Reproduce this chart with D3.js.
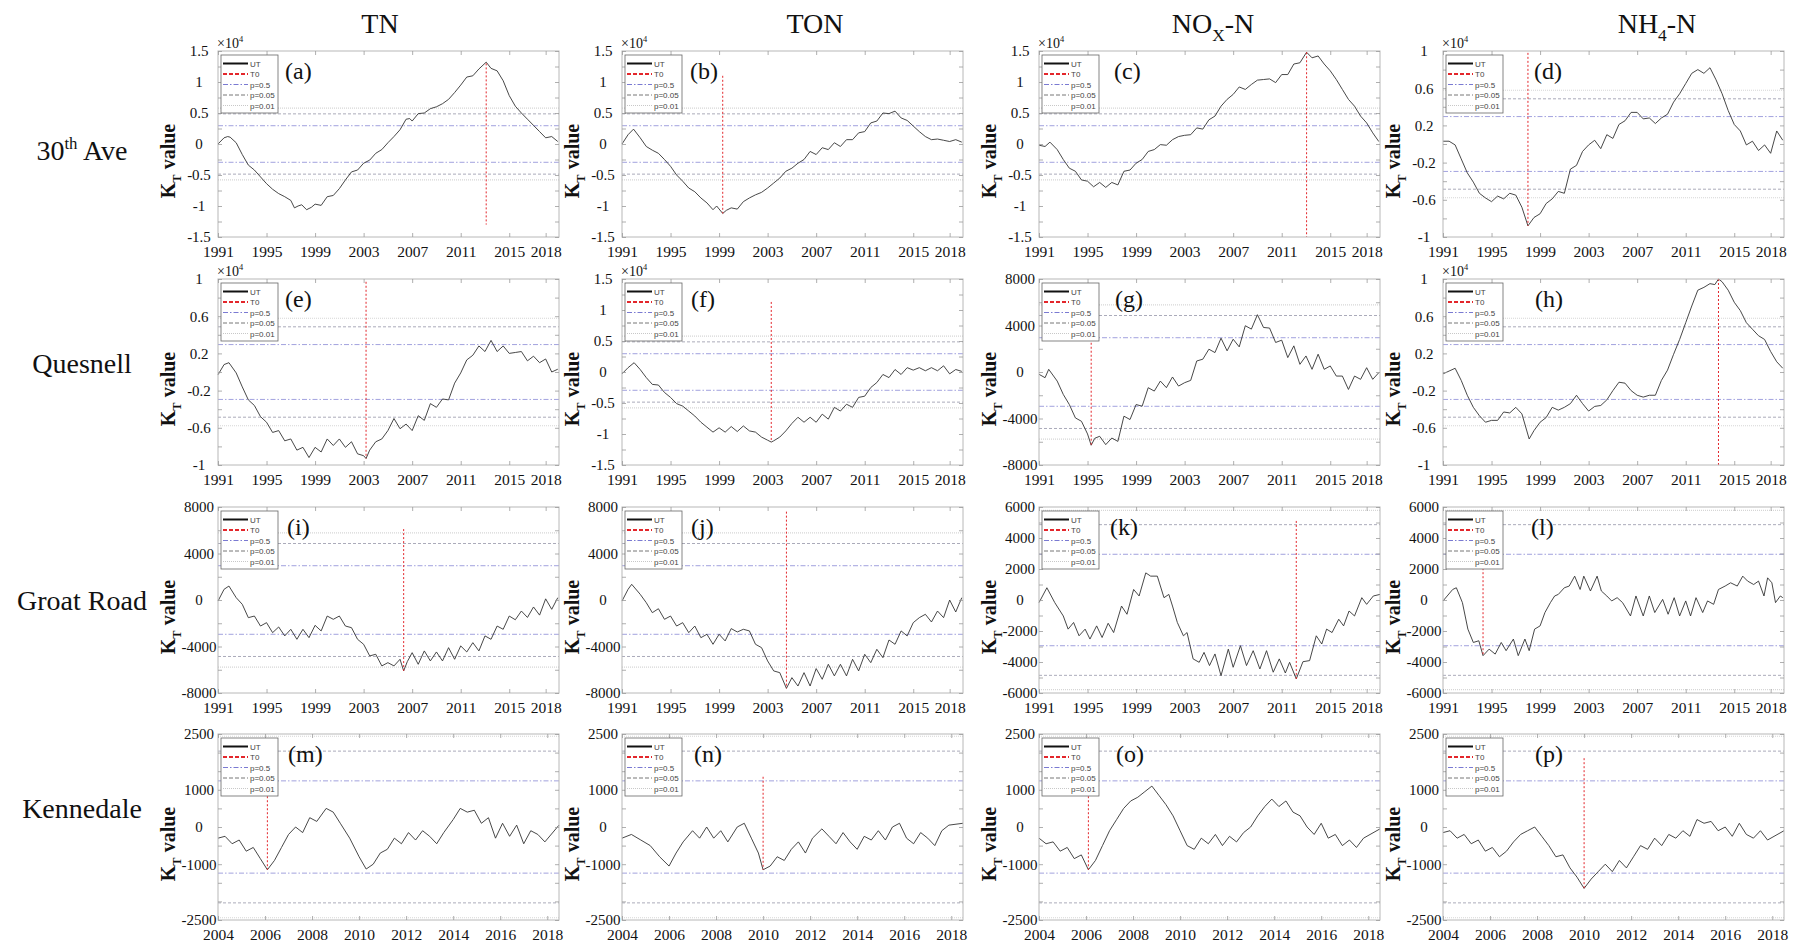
<!DOCTYPE html>
<html><head><meta charset="utf-8">
<script src="https://cdn.jsdelivr.net/npm/d3@7"></script>
<style>body{margin:0;background:#fff}svg{display:block}</style>
</head><body>
<svg id="chart" width="1794" height="945"></svg>
<script>
// ---------------- DATA ----------------
const colTitles = ["TN", "TON", "NO_{X}-N", "NH_{4}-N"];
const rowNames = ["30^{th} Ave", "Quesnell", "Groat Road", "Kennedale"];
const panelLetters = ["(a)","(b)","(c)","(d)","(e)","(f)","(g)","(h)","(i)","(j)","(k)","(l)","(m)","(n)","(o)","(p)"];
const legendLabels = ["UT", "T0", "p=0.5", "p=0.05", "p=0.01"];

const xTicksLong = [1991, 1995, 1999, 2003, 2007, 2011, 2015, 2018];
const xTicksShort = [2004, 2006, 2008, 2010, 2012, 2014, 2016, 2018];
const xDomLong = [1991, 2019.1];
const xDomShort = [2004, 2018.5];

const yTicksA = [-1.5, -1, -0.5, 0, 0.5, 1, 1.5], yMinorA = [-1.25, -0.75, -0.25, 0.25, 0.75, 1.25];
const yTicksB = [-1, -0.6, -0.2, 0.2, 0.6, 1], yMinorB = [-0.8, -0.4, 0, 0.4, 0.8];
const yTicksC = [-8000, -4000, 0, 4000, 8000], yMinorC = [-6000, -2000, 2000, 6000];
const yTicksD = [-6000, -4000, -2000, 0, 2000, 4000, 6000], yMinorD = [-5000, -3000, -1000, 1000, 3000, 5000];
const yTicksE = [-2500, -1000, 0, 1000, 2500], yMinorE = [-2000, -1500, -500, 500, 1500, 2000];

// significance thresholds (p=0.5, p=0.05, p=0.01), in K_T units
const thrLong = [2950, 4860, 5780];
const thrShort = [1240, 2040, 2440];

// UT series (values in panel display units: x10^4 where the panel shows x10^4)
const TN_30thAve = [[1991,0],[1991.5,0.1],[1991.8,0.12],[1992,0.11],[1992.5,0.02],[1993,-0.17],[1993.5,-0.34],[1994,-0.42],[1994.5,-0.53],[1995,-0.64],[1995.5,-0.73],[1996,-0.8],[1996.5,-0.85],[1997,-0.91],[1997.3,-1.03],[1997.6,-1.0],[1997.9,-0.98],[1998.3,-1.06],[1998.7,-1.02],[1999,-0.97],[1999.5,-0.99],[2000,-0.85],[2000.5,-0.83],[2001,-0.72],[2001.5,-0.58],[2002,-0.45],[2002.5,-0.42],[2003,-0.31],[2003.5,-0.26],[2004,-0.15],[2004.5,-0.09],[2005,0.02],[2005.5,0.12],[2006,0.23],[2006.5,0.4],[2006.8,0.41],[2007,0.37],[2007.5,0.49],[2008,0.5],[2008.5,0.57],[2009,0.6],[2009.5,0.65],[2010,0.72],[2010.5,0.83],[2011,0.95],[2011.5,1.08],[2012,1.1],[2012.5,1.21],[2013.1,1.32],[2013.5,1.22],[2014,1.18],[2014.5,1.02],[2015,0.78],[2015.5,0.61],[2016,0.5],[2016.5,0.4],[2017,0.3],[2017.5,0.2],[2018,0.1],[2018.5,0.12],[2019,0.04]];
const TON_30thAve = [[1991,0],[1991.5,0.15],[1991.95,0.24],[1992.5,0.1],[1993,-0.04],[1993.5,-0.1],[1994,-0.15],[1994.5,-0.25],[1995,-0.36],[1995.5,-0.5],[1996,-0.6],[1996.5,-0.71],[1997,-0.77],[1997.5,-0.87],[1998,-0.95],[1998.5,-1.06],[1998.8,-1.0],[1999.3,-1.12],[1999.6,-1.07],[2000,-1.03],[2000.5,-1.05],[2001,-0.93],[2001.5,-0.87],[2002,-0.82],[2002.5,-0.78],[2003,-0.71],[2003.5,-0.63],[2004,-0.55],[2004.5,-0.44],[2005,-0.39],[2005.5,-0.31],[2006,-0.25],[2006.5,-0.12],[2007,-0.17],[2007.5,-0.06],[2008,-0.09],[2008.5,0.02],[2009,-0.04],[2009.5,0.07],[2010,0.07],[2010.5,0.18],[2011,0.2],[2011.5,0.34],[2012,0.37],[2012.5,0.5],[2013,0.49],[2013.5,0.53],[2014,0.42],[2014.5,0.38],[2015,0.29],[2015.5,0.2],[2016,0.12],[2016.5,0.07],[2017,0.08],[2017.5,0.06],[2018,0.04],[2018.5,0.07],[2019,0.03]];
const NOx_30thAve = [[1991,-0.02],[1991.5,-0.04],[1991.9,0.03],[1992.5,-0.09],[1993,-0.25],[1993.5,-0.39],[1994,-0.44],[1994.5,-0.58],[1995,-0.6],[1995.5,-0.69],[1996,-0.62],[1996.5,-0.7],[1997,-0.62],[1997.5,-0.66],[1998,-0.44],[1998.5,-0.42],[1999,-0.31],[1999.5,-0.25],[2000,-0.12],[2000.5,-0.09],[2001,-0.01],[2001.5,-0.02],[2002,0.07],[2002.5,0.12],[2003,0.14],[2003.5,0.15],[2004,0.26],[2004.5,0.24],[2005,0.39],[2005.5,0.45],[2006,0.61],[2006.5,0.72],[2007,0.8],[2007.5,0.92],[2008,0.88],[2008.5,0.96],[2009,1.03],[2009.5,1.04],[2010,1.05],[2010.5,0.99],[2011,1.12],[2011.5,1.12],[2012,1.29],[2012.5,1.31],[2013.05,1.48],[2013.5,1.39],[2014,1.42],[2014.5,1.29],[2015,1.18],[2015.5,1.04],[2016,0.88],[2016.5,0.72],[2017,0.61],[2017.5,0.45],[2018,0.34],[2018.5,0.18],[2019,0.04]];
const NH4_30thAve = [[1991,0.03],[1991.5,0.03],[1992,-0.01],[1992.5,-0.16],[1993,-0.31],[1993.5,-0.41],[1994,-0.53],[1994.5,-0.58],[1995,-0.62],[1995.5,-0.56],[1996,-0.59],[1996.5,-0.53],[1997,-0.55],[1997.5,-0.68],[1998,-0.88],[1998.5,-0.79],[1999,-0.75],[1999.5,-0.64],[2000,-0.59],[2000.5,-0.51],[2001,-0.53],[2001.5,-0.27],[2002,-0.23],[2002.5,-0.08],[2003,-0.01],[2003.5,0.04],[2004,-0.05],[2004.5,0.1],[2005,0.06],[2005.5,0.21],[2006,0.25],[2006.5,0.34],[2007,0.34],[2007.5,0.27],[2008,0.28],[2008.5,0.22],[2009,0.28],[2009.5,0.32],[2010,0.45],[2010.5,0.54],[2011,0.65],[2011.5,0.76],[2012,0.8],[2012.5,0.76],[2013,0.82],[2013.5,0.69],[2014,0.54],[2014.5,0.36],[2015,0.21],[2015.5,0.14],[2016,-0.01],[2016.5,0.03],[2017,-0.07],[2017.5,-0.01],[2018,-0.1],[2018.5,0.14],[2019,0.04]];

const TN_Quesnell = [[1991,-0.03],[1991.5,0.08],[1991.9,0.1],[1992.5,-0.01],[1993,-0.16],[1993.5,-0.3],[1994,-0.36],[1994.5,-0.48],[1995,-0.54],[1995.5,-0.65],[1996,-0.63],[1996.5,-0.74],[1997,-0.72],[1997.5,-0.84],[1998,-0.81],[1998.5,-0.92],[1999,-0.81],[1999.5,-0.86],[2000,-0.72],[2000.5,-0.79],[2001,-0.72],[2001.5,-0.81],[2002,-0.75],[2002.5,-0.88],[2003,-0.9],[2003.2,-0.93],[2003.5,-0.84],[2004,-0.75],[2004.5,-0.72],[2005,-0.63],[2005.5,-0.5],[2006,-0.61],[2006.5,-0.56],[2007,-0.63],[2007.5,-0.47],[2008,-0.52],[2008.5,-0.34],[2009,-0.38],[2009.5,-0.29],[2010,-0.3],[2010.5,-0.12],[2011,-0.01],[2011.5,0.13],[2012,0.18],[2012.5,0.28],[2013,0.22],[2013.5,0.34],[2014,0.22],[2014.5,0.28],[2015,0.2],[2015.5,0.21],[2016,0.22],[2016.5,0.12],[2017,0.17],[2017.5,0.1],[2018,0.14],[2018.5,0.0],[2019,0.03]];
const TON_Quesnell = [[1991,-0.03],[1991.5,0.07],[1992,0.15],[1992.5,0.04],[1993,-0.09],[1993.5,-0.2],[1994,-0.21],[1994.5,-0.33],[1995,-0.41],[1995.5,-0.51],[1996,-0.55],[1996.5,-0.63],[1997,-0.71],[1997.5,-0.81],[1998,-0.89],[1998.5,-0.97],[1999,-0.9],[1999.5,-0.97],[2000,-0.88],[2000.5,-0.96],[2001,-0.87],[2001.5,-0.95],[2002,-0.97],[2002.5,-1.05],[2003,-1.1],[2003.3,-1.13],[2003.5,-1.11],[2004,-1.05],[2004.5,-0.95],[2005,-0.83],[2005.5,-0.73],[2006,-0.81],[2006.5,-0.73],[2007,-0.81],[2007.5,-0.68],[2008,-0.76],[2008.5,-0.57],[2009,-0.63],[2009.5,-0.52],[2010,-0.57],[2010.5,-0.41],[2011,-0.39],[2011.5,-0.25],[2012,-0.17],[2012.5,-0.04],[2013,-0.09],[2013.5,0.04],[2014,-0.04],[2014.5,0.07],[2015,0.03],[2015.5,0.07],[2016,0.02],[2016.5,0.07],[2017,0.02],[2017.5,0.1],[2018,-0.03],[2018.5,0.04],[2019,0.01]];
const NOx_Quesnell = [[1991,-200],[1991.5,-490],[1991.8,230],[1992.5,-780],[1993,-1930],[1993.5,-2800],[1994,-3950],[1994.5,-4240],[1995,-5330],[1995.3,-6300],[1995.6,-5700],[1996,-5530],[1996.5,-6250],[1997,-5680],[1997.5,-5970],[1998,-3800],[1998.5,-4090],[1999,-2800],[1999.5,-2940],[2000,-1350],[2000.5,-1640],[2001,-780],[2001.5,-1350],[2002,-430],[2002.5,-1210],[2003,-920],[2003.5,-720],[2004,950],[2004.5,1100],[2005,1960],[2005.5,1670],[2006,2910],[2006.5,1820],[2007,2820],[2007.5,2160],[2008,3980],[2008.5,3690],[2009,4930],[2009.5,3830],[2010,3780],[2010.5,2540],[2011,2740],[2011.5,1240],[2012,2250],[2012.5,660],[2013,1380],[2013.5,230],[2014,1530],[2014.5,230],[2015,520],[2015.5,-350],[2016,-350],[2016.5,-1500],[2017,-350],[2017.5,-630],[2018,370],[2018.5,-630],[2019,-60]];
const NH4_Quesnell = [[1991,-0.02],[1991.5,0.01],[1992,0.04],[1992.5,-0.09],[1993,-0.25],[1993.5,-0.38],[1994,-0.47],[1994.5,-0.54],[1995,-0.52],[1995.5,-0.52],[1996,-0.43],[1996.5,-0.44],[1997,-0.38],[1997.5,-0.45],[1998.1,-0.72],[1998.5,-0.63],[1999,-0.54],[1999.5,-0.49],[2000,-0.38],[2000.5,-0.41],[2001,-0.38],[2001.5,-0.34],[2002,-0.25],[2002.5,-0.34],[2003,-0.42],[2003.5,-0.37],[2004,-0.36],[2004.5,-0.3],[2005,-0.2],[2005.5,-0.11],[2006,-0.12],[2006.5,-0.2],[2007,-0.25],[2007.5,-0.27],[2008,-0.25],[2008.5,-0.25],[2009,-0.09],[2009.5,0.02],[2010,0.19],[2010.5,0.35],[2011,0.53],[2011.5,0.71],[2012,0.88],[2012.5,0.91],[2013,0.95],[2013.4,0.94],[2013.7,1.0],[2014,0.97],[2014.5,0.88],[2015,0.75],[2015.5,0.66],[2016,0.53],[2016.5,0.46],[2017,0.39],[2017.5,0.35],[2018,0.22],[2018.5,0.11],[2019,0.04]];

const TN_Groat = [[1991,-90],[1991.5,920],[1991.9,1200],[1992.5,200],[1993,-370],[1993.5,-1520],[1994,-1380],[1994.5,-2240],[1995,-1950],[1995.5,-2810],[1996,-2320],[1996.5,-3090],[1997,-2520],[1997.5,-3380],[1998,-2520],[1998.5,-3240],[1999,-2180],[1999.5,-2660],[2000,-1380],[2000.5,-1660],[2001,-1380],[2001.5,-2240],[2002,-2380],[2002.5,-3380],[2003,-3810],[2003.5,-4810],[2004,-4670],[2004.5,-5670],[2005,-5390],[2005.5,-5670],[2006,-5100],[2006.3,-6100],[2006.6,-5300],[2007,-4530],[2007.5,-5530],[2008,-4380],[2008.5,-5240],[2009,-4470],[2009.5,-5240],[2010,-4100],[2010.5,-5100],[2011,-3950],[2011.5,-4470],[2012,-3670],[2012.5,-4380],[2013,-3090],[2013.5,-3380],[2014,-2240],[2014.5,-2520],[2015,-1380],[2015.5,-1700],[2016,-950],[2016.5,-1500],[2017,-600],[2017.5,-1300],[2018,100],[2018.5,-800],[2019,200]];
const TON_Groat = [[1991,-90],[1991.5,920],[1991.8,1350],[1992.5,490],[1993,-230],[1993.5,-1090],[1994,-750],[1994.5,-1660],[1995,-1380],[1995.5,-2240],[1996,-1950],[1996.5,-2810],[1997,-2240],[1997.5,-3240],[1998,-2950],[1998.5,-3810],[1999,-2950],[1999.5,-3520],[2000,-2460],[2000.5,-2750],[2001,-2520],[2001.5,-2660],[2002,-3810],[2002.5,-4100],[2003,-5240],[2003.5,-6100],[2004,-6250],[2004.55,-7600],[2005,-6680],[2005.5,-7400],[2006,-6250],[2006.5,-7400],[2007,-5900],[2007.5,-6820],[2008,-5530],[2008.5,-6530],[2009,-5530],[2009.5,-6530],[2010,-5100],[2010.5,-6100],[2011,-4670],[2011.5,-5390],[2012,-4240],[2012.5,-4960],[2013,-3440],[2013.5,-3810],[2014,-2660],[2014.5,-3090],[2015,-1950],[2015.5,-1520],[2016,-1230],[2016.5,-1890],[2017,-950],[2017.5,-1520],[2018,0],[2018.5,-1030],[2019,200]];
const NOx_Groat = [[1991,-170],[1991.65,790],[1992.3,-170],[1993,-1030],[1993.4,-1880],[1993.85,-1450],[1994.3,-2310],[1994.8,-1880],[1995.2,-2520],[1995.75,-1670],[1996.2,-2420],[1996.7,-1500],[1997.15,-2100],[1997.8,-390],[1998.25,-920],[1998.8,680],[1999.25,260],[1999.8,1750],[2000.2,1540],[2000.75,1540],[2001.3,150],[2001.7,360],[2002,-390],[2002.4,-1450],[2002.9,-2310],[2003.2,-2100],[2003.7,-3800],[2004.2,-4020],[2004.6,-3380],[2005.05,-4230],[2005.5,-3480],[2006,-4880],[2006.6,-3170],[2007,-4340],[2007.6,-2950],[2008.1,-4230],[2008.65,-3270],[2009.2,-4450],[2009.75,-3270],[2010.3,-4660],[2010.8,-3800],[2011.3,-4710],[2011.65,-4020],[2012.2,-5090],[2012.75,-3980],[2013.3,-3910],[2013.85,-2310],[2014.3,-2840],[2014.7,-1880],[2015.15,-2100],[2015.7,-1240],[2016.1,-1670],[2016.55,-710],[2017,-1030],[2017.6,150],[2018,-280],[2018.55,260],[2019.1,360]];
const NH4_Groat = [[1991,-60],[1991.8,680],[1992.1,790],[1992.6,-170],[1993.05,-1880],[1993.5,-2740],[1993.95,-2630],[1994.3,-3590],[1994.8,-3170],[1995.3,-3490],[1995.8,-2740],[1996.2,-3270],[1996.8,-2520],[1997.2,-3590],[1997.75,-2520],[1998.1,-3270],[1998.55,-1880],[1999.0,-1670],[1999.4,-810],[1999.85,-170],[2000.2,260],[2000.5,360],[2001.0,790],[2001.4,900],[2001.85,1540],[2002.3,680],[2002.6,1540],[2003.15,580],[2003.7,1540],[2004.05,580],[2004.5,260],[2004.9,-60],[2005.35,150],[2005.8,-170],[2006.45,-1030],[2006.9,260],[2007.5,-1030],[2008.0,260],[2008.45,-810],[2009.1,40],[2009.55,-920],[2010.05,150],[2010.5,-1030],[2011.0,-60],[2011.4,-1030],[2011.85,150],[2012.4,-810],[2012.8,-60],[2013.3,-280],[2013.7,680],[2014.25,900],[2014.7,1110],[2015.25,900],[2015.7,1540],[2016.1,1220],[2016.6,1000],[2017.0,1220],[2017.45,260],[2017.75,1430],[2018.1,1110],[2018.4,-170],[2018.8,260],[2019.0,150]];

const TN_Kennedale = [[2004,-300],[2004.3,-250],[2004.6,-450],[2004.9,-350],[2005.2,-650],[2005.5,-550],[2005.8,-850],[2006.1,-1150],[2006.4,-900],[2006.7,-550],[2007,-200],[2007.3,0],[2007.6,-150],[2007.9,250],[2008.2,150],[2008.6,500],[2008.9,400],[2009.2,100],[2009.6,-300],[2010,-800],[2010.3,-1130],[2010.6,-1000],[2010.9,-700],[2011.2,-600],[2011.5,-300],[2011.8,-450],[2012.1,-150],[2012.4,-350],[2012.7,-100],[2013,-250],[2013.3,-450],[2013.6,-150],[2014,200],[2014.3,500],[2014.6,400],[2014.9,450],[2015.2,100],[2015.5,250],[2015.8,-300],[2016.1,100],[2016.4,-250],[2016.7,50],[2017,-450],[2017.3,-100],[2017.6,-200],[2017.9,-400],[2018.5,50]];
const TON_Kennedale = [[2004,-300],[2004.4,-200],[2004.8,-350],[2005.2,-500],[2005.6,-800],[2006,-1050],[2006.3,-700],[2006.6,-400],[2007,-100],[2007.3,-300],[2007.6,0],[2007.9,-300],[2008.2,-100],[2008.5,-400],[2008.9,0],[2009.2,100],[2009.5,-300],[2009.8,-700],[2010,-1150],[2010.3,-1050],[2010.6,-800],[2010.9,-900],[2011.2,-600],[2011.5,-400],[2011.8,-700],[2012.1,-300],[2012.5,-50],[2012.8,-250],[2013.1,-450],[2013.4,-150],[2013.7,-400],[2014,-600],[2014.3,-250],[2014.6,-350],[2014.9,-100],[2015.2,-350],[2015.5,0],[2015.8,100],[2016.1,-300],[2016.4,-450],[2016.7,-150],[2017,-300],[2017.3,-500],[2017.6,-100],[2017.9,50],[2018.5,100]];
const NOx_Kennedale = [[2004,-300],[2004.3,-450],[2004.6,-400],[2004.9,-650],[2005.2,-550],[2005.5,-850],[2005.8,-750],[2006.1,-1150],[2006.4,-900],[2006.7,-500],[2007,-100],[2007.3,200],[2007.6,500],[2007.9,700],[2008.2,800],[2008.5,950],[2008.8,1100],[2009.1,850],[2009.4,600],[2009.7,300],[2010,-100],[2010.3,-500],[2010.6,-600],[2010.9,-300],[2011.2,-450],[2011.5,-200],[2011.8,-500],[2012.1,-250],[2012.4,-400],[2012.7,-150],[2013,0],[2013.3,300],[2013.6,550],[2013.9,750],[2014.2,550],[2014.5,700],[2014.8,400],[2015.1,300],[2015.4,0],[2015.7,-200],[2016,100],[2016.3,-300],[2016.6,-200],[2016.9,-500],[2017.2,-350],[2017.5,-550],[2017.8,-300],[2018.5,-50]];
const NH4_Kennedale = [[2004,-150],[2004.3,-100],[2004.6,-300],[2004.9,-200],[2005.2,-450],[2005.5,-350],[2005.8,-650],[2006.1,-550],[2006.4,-800],[2006.7,-650],[2007,-400],[2007.3,-200],[2007.6,-100],[2007.9,0],[2008.2,-250],[2008.5,-500],[2008.8,-800],[2009.1,-750],[2009.4,-1100],[2009.7,-1350],[2010,-1650],[2010.3,-1400],[2010.6,-1200],[2010.9,-1000],[2011.2,-1200],[2011.5,-900],[2011.8,-1100],[2012.1,-800],[2012.4,-500],[2012.7,-600],[2013,-300],[2013.3,-500],[2013.6,-200],[2013.9,-300],[2014.2,-100],[2014.5,-250],[2014.8,200],[2015.1,100],[2015.4,150],[2015.7,-100],[2016,0],[2016.3,-250],[2016.6,100],[2016.9,-200],[2017.2,-300],[2017.5,-100],[2017.8,-350],[2018.5,-100]];

// T0 (abrupt-change year) and vertical extent of its marker line, per panel
const t0Years  = [2013.1, 1999.3, 2013.05, 1998.0, 2003.2, 2003.3, 1995.3, 2013.7, 2006.3, 2004.55, 2012.2, 1994.3, 2006.1, 2010.0, 2006.1, 2010.0];
const t0Top    = [1.3, 1.1, 1.48, 0.98, 0.97, 1.13, 6300, 1.0, 6100, 7600, 5100, 3600, 1150, 1350, 1150, 1850];
const t0Bottom = [-1.3, -1.12, -1.5, -0.88, -0.93, -1.13, -6300, -1.0, -6100, -7600, -5100, -3600, -1150, -1150, -1150, -1650];

// y-axis type per panel and whether the axis is shown x10^4
const yAxisType = ["A","A","A","B", "B","A","C","B", "C","C","D","D", "E","E","E","E"];
const yExp4     = [1,1,1,1, 1,1,0,1, 0,0,0,0, 0,0,0,0];

const seriesList = [TN_30thAve, TON_30thAve, NOx_30thAve, NH4_30thAve,
                    TN_Quesnell, TON_Quesnell, NOx_Quesnell, NH4_Quesnell,
                    TN_Groat, TON_Groat, NOx_Groat, NH4_Groat,
                    TN_Kennedale, TON_Kennedale, NOx_Kennedale, NH4_Kennedale];

// ---------------- LAYOUT ----------------
const colLeft = [218, 622, 1039, 1443];
const rowTop = [51, 279, 507, 734];
const plotW = 341, plotH = 186;
const titleX = [380, 815, 1213, 1657];
const rowNameY = [160, 373, 610, 818];
const letterOffset = [67,68,75,91, 67,69,76,92, 69,69,71,88, 70,72,77,92];

const SERIF = '"Liberation Serif","Times New Roman",Times,serif';
const SANS = '"Liberation Sans",Arial,sans-serif';

const yAxes = {
  A: {ticks: yTicksA, minor: yMinorA},
  B: {ticks: yTicksB, minor: yMinorB},
  C: {ticks: yTicksC, minor: yMinorC},
  D: {ticks: yTicksD, minor: yMinorD},
  E: {ticks: yTicksE, minor: yMinorE}
};

const thrStyles = [
  {stroke: "#8a8ad6", dash: "5,2,1.5,2", w: 0.8},
  {stroke: "#9595a8", dash: "3,2", w: 0.8},
  {stroke: "#d6d6d6", dash: "1,1", w: 1.2}
];

const svg = d3.select("#chart");

function rich(textSel, str, size) {
  const parts = str.split(/(\^\{[^}]*\}|_\{[^}]*\})/).filter(s => s.length);
  let off = 0;
  parts.forEach(s => {
    let target = 0, txt = s, fs = size;
    if (s.startsWith("^{")) { target = -0.4 * size; txt = s.slice(2, -1); fs = size * 0.6; }
    else if (s.startsWith("_{")) { target = 0.3 * size; txt = s.slice(2, -1); fs = size * 0.62; }
    textSel.append("tspan").attr("dy", target - off).attr("font-size", fs).text(txt);
    off = target;
  });
}

// Column titles
colTitles.forEach((t, c) => {
  const tx = svg.append("text").attr("x", titleX[c]).attr("y", 33)
    .attr("text-anchor", "middle").attr("font-family", SERIF).attr("font-size", 28).attr("fill", "#111");
  rich(tx, t, 28);
});

// Row names
rowNames.forEach((t, r) => {
  const tx = svg.append("text").attr("x", 82).attr("y", rowNameY[r])
    .attr("text-anchor", "middle").attr("font-family", SERIF).attr("font-size", 28).attr("fill", "#111");
  rich(tx, t, 28);
});

function styleAxis(sel, size) {
  sel.attr("font-family", SERIF);
  sel.select(".domain").remove();
  sel.selectAll(".tick line").attr("stroke", "#9a9a9a").attr("stroke-width", 0.8);
  sel.selectAll(".tick text").attr("font-family", SERIF).attr("font-size", size).attr("fill", "#111");
}

seriesList.forEach((data, i) => {
  const r = Math.floor(i / 4), c = i % 4;
  const left = colLeft[c], top = rowTop[r];
  const ya = yAxes[yAxisType[i]];
  const div = yExp4[i] ? 1e4 : 1;
  const thr = r < 3 ? thrLong : thrShort;
  const x = d3.scaleLinear().domain(r < 3 ? xDomLong : xDomShort).range([0, plotW]);
  const y = d3.scaleLinear().domain([ya.ticks[0], ya.ticks[ya.ticks.length - 1]]).range([plotH, 0]);
  const xt = r < 3 ? xTicksLong : xTicksShort;

  const g = svg.append("g").attr("transform", `translate(${left},${top})`);
  g.append("rect").attr("width", plotW).attr("height", plotH).attr("fill", "#fff");

  // threshold lines
  thr.forEach((v, k) => {
    [v, -v].forEach(s => {
      g.append("line").attr("x1", 0).attr("x2", plotW)
        .attr("y1", y(s / div)).attr("y2", y(s / div))
        .attr("stroke", thrStyles[k].stroke).attr("stroke-width", thrStyles[k].w)
        .attr("stroke-dasharray", thrStyles[k].dash);
    });
  });

  // UT curve
  g.append("path").datum(data)
    .attr("d", d3.line().x(d => x(d[0])).y(d => y(d[1])))
    .attr("fill", "none").attr("stroke", "#333").attr("stroke-width", 0.9).attr("stroke-linejoin", "round");

  // T0 marker
  g.append("line").attr("x1", x(t0Years[i])).attr("x2", x(t0Years[i]))
    .attr("y1", y(t0Top[i])).attr("y2", y(t0Bottom[i]))
    .attr("stroke", "#e3262b").attr("stroke-width", 1).attr("stroke-dasharray", "2,2");

  // frame
  g.append("rect").attr("width", plotW).attr("height", plotH).attr("fill", "none")
    .attr("stroke", "#b8b8b8").attr("stroke-width", 1);

  // axes (inward ticks on all four sides)
  const bx = g.append("g").attr("transform", `translate(0,${plotH})`)
    .call(d3.axisBottom(x).tickValues(xt).tickSizeInner(-4).tickSizeOuter(0).tickPadding(9).tickFormat(d3.format("d")));
  styleAxis(bx, 15.5);
  const tx = g.append("g").call(d3.axisTop(x).tickValues(xt).tickSizeInner(-4).tickSizeOuter(0).tickFormat(""));
  styleAxis(tx, 1);

  const ly = g.append("g")
    .call(d3.axisLeft(y).tickValues(ya.ticks).tickSizeInner(-4).tickSizeOuter(0).tickPadding(0).tickFormat(d => String(d)));
  styleAxis(ly, 15);
  ly.selectAll(".tick text").attr("text-anchor", "middle").attr("x", -19);
  const lym = g.append("g").call(d3.axisLeft(y).tickValues(ya.minor).tickSizeInner(-4).tickSizeOuter(0).tickFormat(""));
  styleAxis(lym, 1);
  const ry = g.append("g").attr("transform", `translate(${plotW},0)`)
    .call(d3.axisRight(y).tickValues(ya.ticks.concat(ya.minor)).tickSizeInner(-4).tickSizeOuter(0).tickFormat(""));
  styleAxis(ry, 1);

  // exponent label
  if (yExp4[i]) {
    const ex = g.append("text").attr("x", -1).attr("y", -3)
      .attr("font-family", SERIF).attr("font-size", 14).attr("fill", "#111");
    rich(ex, "×10^{4}", 14);
  }

  // y-axis title
  const yt = g.append("text").attr("transform", `translate(-43,${110}) rotate(-90)`)
    .attr("text-anchor", "middle").attr("font-family", SERIF).attr("font-size", 20)
    .attr("font-weight", "bold").attr("fill", "#111");
  rich(yt, "K_{T} value", 20);

  // legend
  const lg = g.append("g").attr("transform", "translate(3,4)");
  lg.append("rect").attr("width", 57).attr("height", 58).attr("fill", "#fff")
    .attr("stroke", "#666").attr("stroke-width", 0.8);
  const legStyles = [
    {stroke: "#111", dash: null, w: 2},
    {stroke: "#e3262b", dash: "4,2", w: 2},
    {stroke: "#7a7ad2", dash: "5,2,1.5,2", w: 1},
    {stroke: "#777", dash: "4,2", w: 1},
    {stroke: "#c8c8c8", dash: "1,1", w: 1}
  ];
  legendLabels.forEach((lab, k) => {
    const yy = 8.5 + 10.5 * k;
    lg.append("line").attr("x1", 2).attr("x2", 27).attr("y1", yy).attr("y2", yy)
      .attr("stroke", legStyles[k].stroke).attr("stroke-width", legStyles[k].w)
      .attr("stroke-dasharray", legStyles[k].dash);
    lg.append("text").attr("x", 29).attr("y", yy + 3).attr("font-family", SANS)
      .attr("font-size", 8).attr("fill", "#444").text(lab);
  });

  // panel letter
  g.append("text").attr("x", letterOffset[i]).attr("y", 28)
    .attr("font-family", SERIF).attr("font-size", 24).attr("fill", "#111").text(panelLetters[i]);
});
</script>
</body></html>
